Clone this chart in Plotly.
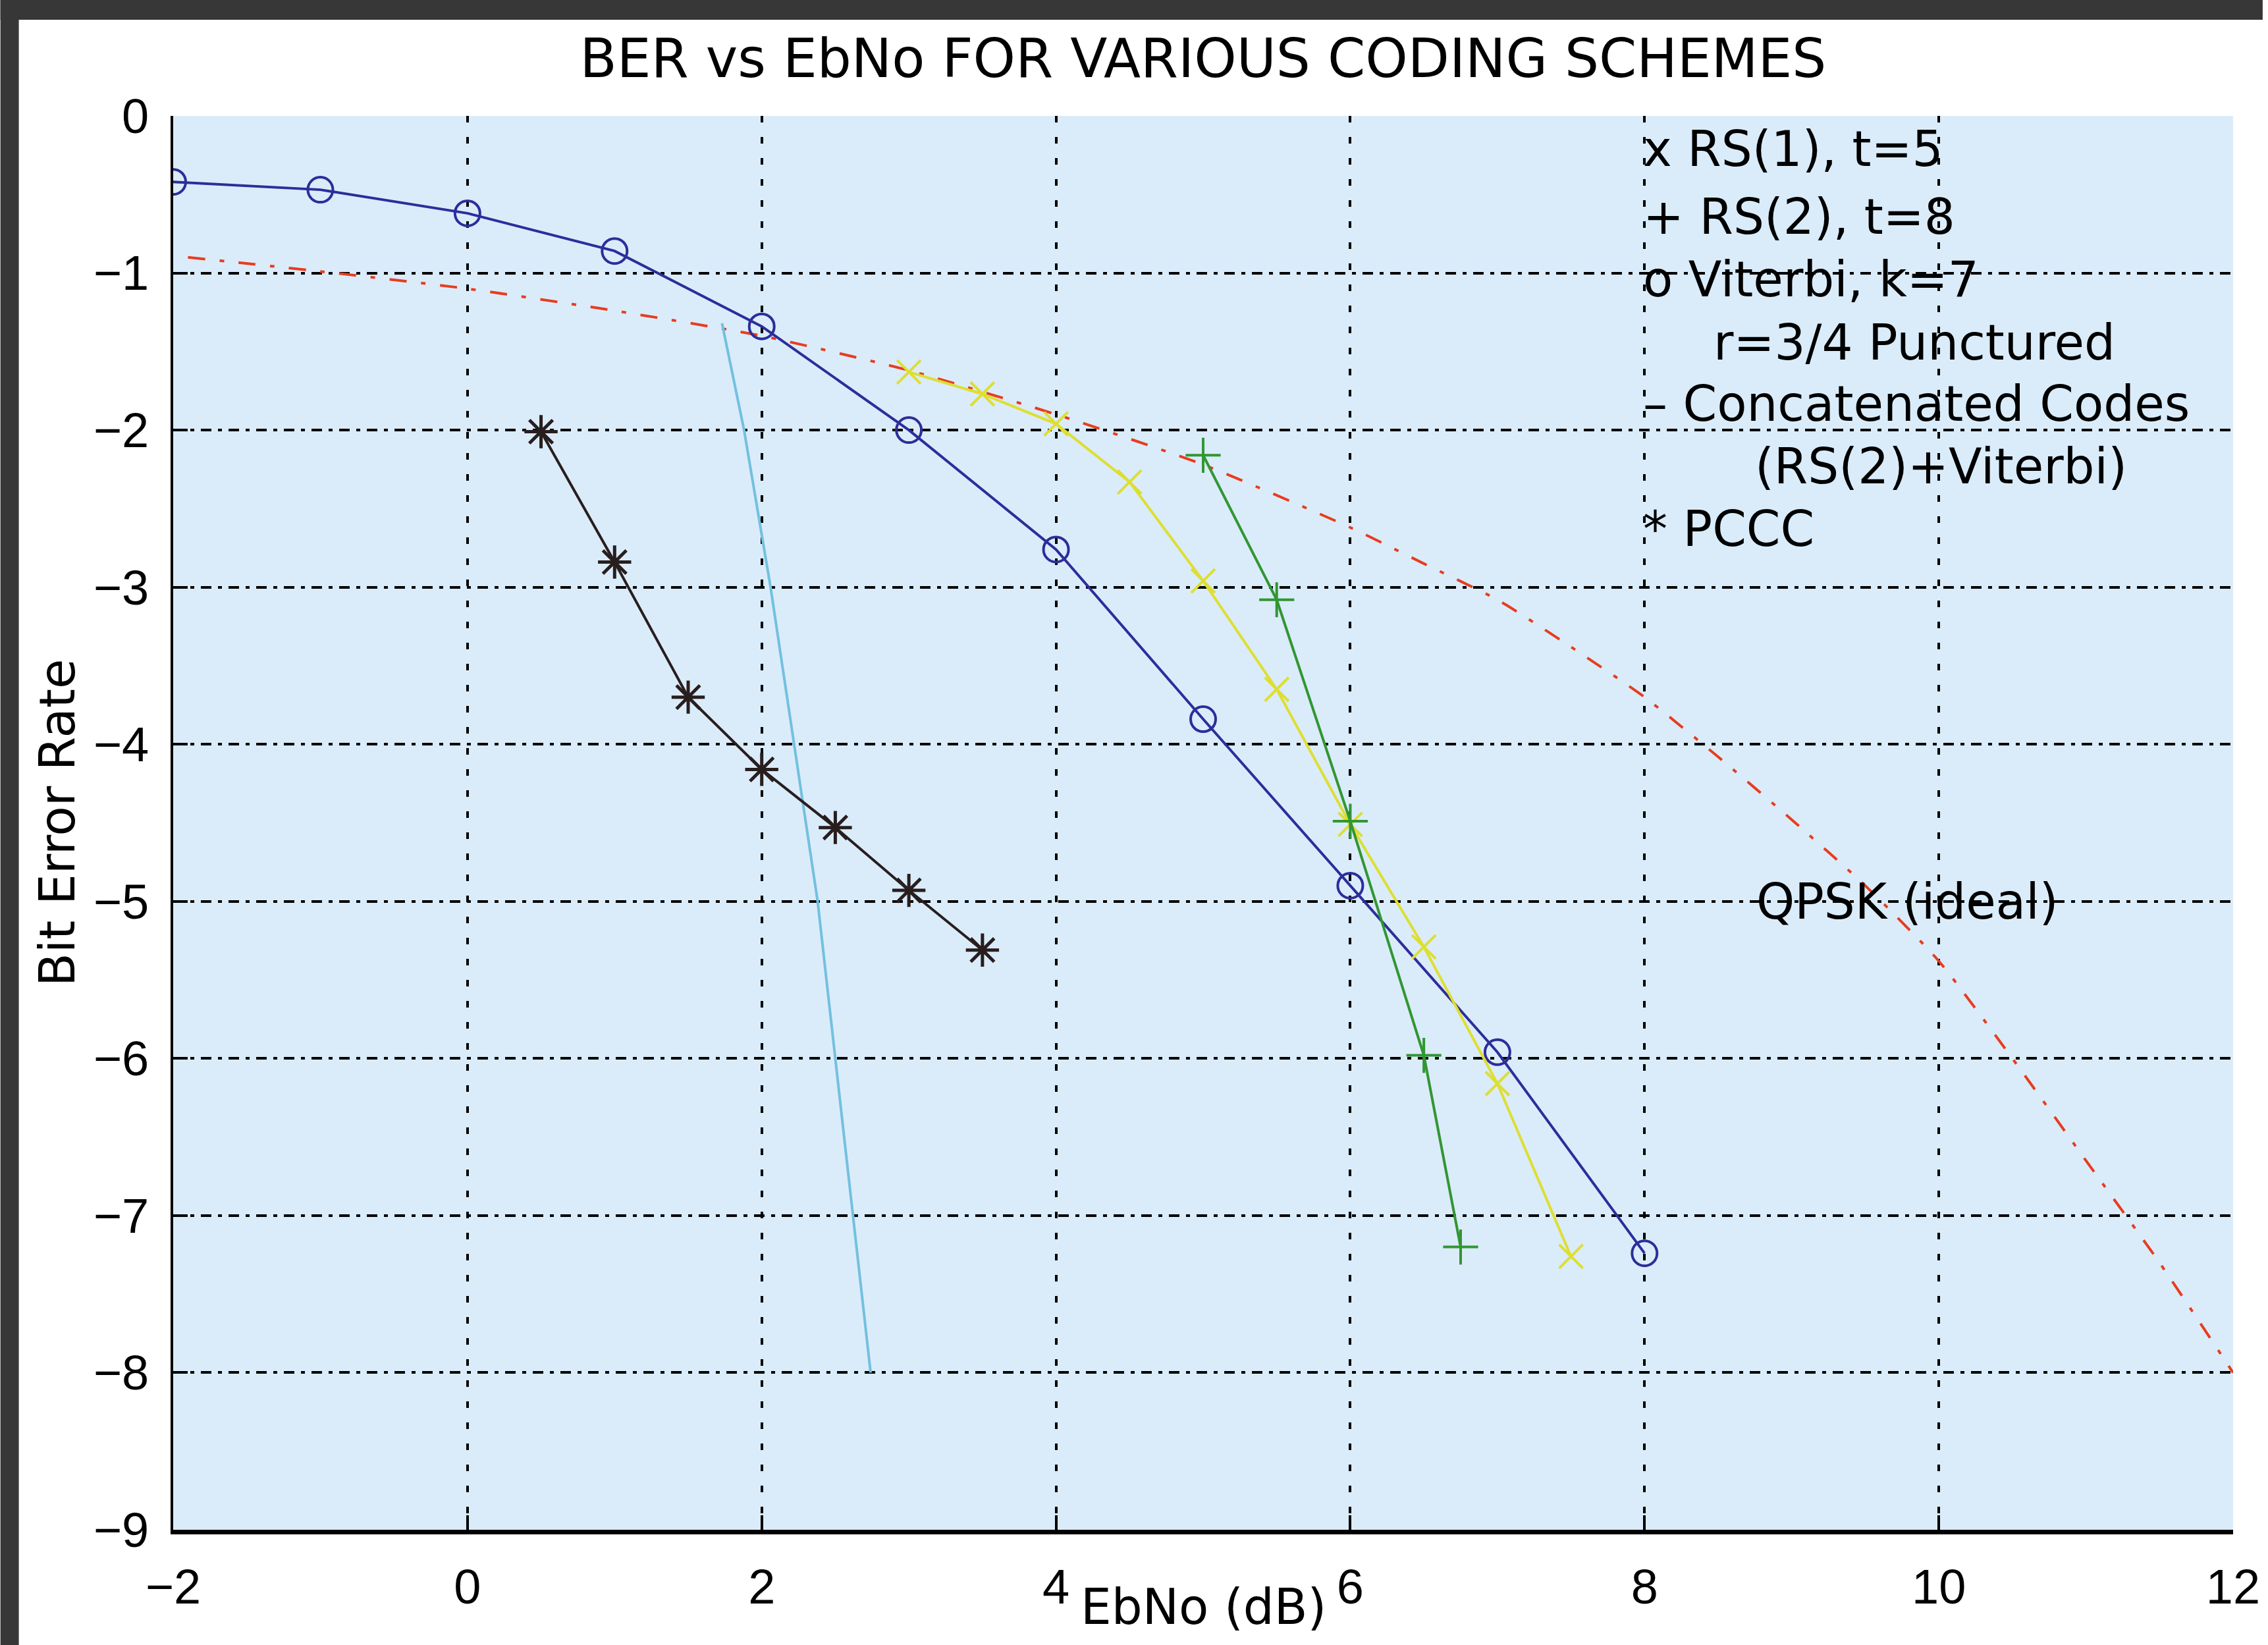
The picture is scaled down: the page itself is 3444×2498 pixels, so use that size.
import plotly.graph_objects as go

W, H = 3444, 2498
ML, MR, MT, MB = 263, 45, 176, 175
PW, PH = W - ML - MR, H - MT - MB

# ---- data (EbNo in dB, log10 BER) ----
ebno_viterbi = [-2, -1, 0, 1, 2, 3, 4, 5, 6, 7, 8]
ber_viterbi = [-0.42, -0.47, -0.62, -0.86, -1.34, -2.00, -2.76, -3.84, -4.90, -5.96, -7.24]

ebno_rs1 = [3, 3.5, 4, 4.5, 5, 5.5, 6, 6.5, 7, 7.5]
ber_rs1 = [-1.63, -1.77, -1.96, -2.33, -2.96, -3.65, -4.51, -5.29, -6.16, -7.26]

ebno_rs2 = [5, 5.5, 6, 6.5, 6.75]
ber_rs2 = [-2.16, -3.08, -4.49, -5.98, -7.20]

ebno_pccc = [0.5, 1, 1.5, 2, 2.5, 3, 3.5]
ber_pccc = [-2.01, -2.84, -3.70, -4.16, -4.53, -4.93, -5.31]

ebno_concat = [1.73, 1.88, 2.06, 2.22, 2.38, 2.50, 2.62, 2.74]
ber_concat = [-1.32, -2.0, -3.0, -4.0, -5.0, -6.0, -7.0, -8.0]

ebno_qpsk = [-1.9, -1, 0, 1, 2, 3, 4, 5, 6, 6.5, 7, 7.5, 8, 8.5, 9, 9.5, 10, 10.5, 11, 11.5, 12]
ber_qpsk = [-0.90, -0.99, -1.10, -1.24, -1.40, -1.62, -1.90, -2.22, -2.62, -2.85, -3.08, -3.38,
            -3.70, -4.08, -4.48, -4.90, -5.38, -6.00, -6.65, -7.30, -8.00]

x_ticks = [-2, 0, 2, 4, 6, 8, 10, 12]
y_ticks = [0, -1, -2, -3, -4, -5, -6, -7, -8, -9]

legend_lines = ["x RS(1), t=5", "+ RS(2), t=8", "o Viterbi, k=7", "r=3/4 Punctured",
                "\u2013 Concatenated Codes", "(RS(2)+Viterbi)", "* PCCC"]
legend_x = [7.98, 7.98, 7.98, 8.46, 7.98, 8.74, 7.98]
legend_y = [-0.21, -0.64, -1.04, -1.44, -1.83, -2.23, -2.63]

FONT = "DejaVu Sans"
TICKFONT = "Liberation Sans"
FS = 74


def fmt(v):
    return ("\u2212" + str(-v)) if v < 0 else str(v)


fig = go.Figure()

fig.add_trace(go.Scatter(x=ebno_qpsk, y=ber_qpsk, mode="lines",
                         line=dict(color="rgb(232,60,30)", width=4, dash="26px,22px,7px,22px",
                                   shape="spline", smoothing=0.6),
                         showlegend=False))
fig.add_trace(go.Scatter(x=ebno_concat, y=ber_concat, mode="lines",
                         line=dict(color="rgb(115,192,224)", width=4), showlegend=False))
fig.add_trace(go.Scatter(x=ebno_viterbi, y=ber_viterbi, mode="lines+markers",
                         line=dict(color="rgb(45,45,155)", width=4),
                         marker=dict(symbol="circle-open", size=38, color="rgb(45,45,155)",
                                     line=dict(width=4, color="rgb(45,45,155)")),
                         showlegend=False))
fig.add_trace(go.Scatter(x=ebno_rs1, y=ber_rs1, mode="lines+markers",
                         line=dict(color="rgb(222,222,50)", width=4),
                         marker=dict(symbol="x-thin", size=36,
                                     line=dict(width=4, color="rgb(222,222,50)")),
                         showlegend=False))
fig.add_trace(go.Scatter(x=ebno_rs2, y=ber_rs2, mode="lines+markers",
                         line=dict(color="rgb(50,150,50)", width=4),
                         marker=dict(symbol="cross-thin", size=38,
                                     line=dict(width=4, color="rgb(50,150,50)")),
                         showlegend=False))
fig.add_trace(go.Scatter(x=ebno_pccc, y=ber_pccc, mode="lines+markers",
                         line=dict(color="rgb(40,30,30)", width=4),
                         marker=dict(symbol="asterisk-open", size=42,
                                     line=dict(width=5, color="rgb(40,30,30)")),
                         showlegend=False))

annotations = []
for txt, lx, ly in zip(legend_lines, legend_x, legend_y):
    annotations.append(dict(x=lx, y=ly, xref="x", yref="y", text=txt, showarrow=False,
                            xanchor="left", yanchor="middle",
                            font=dict(family=FONT, size=FS, color="black")))
annotations.append(dict(x=8.75, y=-5.0, xref="x", yref="y", text="QPSK (ideal)",
                        showarrow=False, xanchor="left", yanchor="middle",
                        font=dict(family=FONT, size=FS, color="black")))
annotations.append(dict(x=0.5, y=-(2440 - (H - MB)) / PH, xref="paper", yref="paper",
                        text="EbNo (dB)", showarrow=False, xanchor="center", yanchor="middle",
                        font=dict(family=FONT, size=FS, color="black")))
annotations.append(dict(x=(86 - ML) / PW, y=0.5, xref="paper", yref="paper",
                        text="Bit Error Rate", showarrow=False, textangle=-90,
                        xanchor="center", yanchor="middle",
                        font=dict(family=FONT, size=FS, color="black")))

shapes = [
    # dark scanner border, top and left
    dict(type="rect", xref="paper", yref="paper", x0=-ML / PW, x1=1 + MR / PW,
         y0=1 + (MT - 30) / PH, y1=1 + MT / PH, fillcolor="rgb(55,55,55)", line=dict(width=0)),
    dict(type="rect", xref="paper", yref="paper", x0=-ML / PW, x1=-(ML - 28) / PW,
         y0=-MB / PH, y1=1 + MT / PH, fillcolor="rgb(55,55,55)", line=dict(width=0)),
]

fig.update_layout(
    width=W, height=H,
    margin=dict(l=ML, r=MR, t=MT, b=MB, pad=0),
    paper_bgcolor="white",
    plot_bgcolor="rgb(218,236,250)",
    title=dict(text="BER vs EbNo FOR VARIOUS CODING SCHEMES", x=0.5, xref="paper",
               xanchor="center", y=1 - 88 / H, yref="container", yanchor="middle",
               font=dict(family=FONT, size=82, color="black")),
    annotations=annotations,
    shapes=shapes,
    font=dict(family=FONT, size=FS, color="black"),
)

fig.update_xaxes(range=[-2, 12], tickvals=x_ticks, ticktext=[fmt(v) for v in x_ticks],
                 showgrid=True, gridcolor="black", gridwidth=4, griddash="10px,22px",
                 showline=True, linecolor="black", linewidth=7, mirror=False,
                 ticks="inside", ticklen=22, tickwidth=4, tickcolor="black",
                 ticklabelstandoff=16, ticklabeloverflow="allow", zeroline=False,
                 tickfont=dict(family=TICKFONT, size=FS, color="black"))
fig.update_yaxes(range=[-9, 0], tickvals=y_ticks, ticktext=[fmt(v) for v in y_ticks],
                 showgrid=True, gridcolor="black", gridwidth=4, griddash="16px,10px,6px,10px",
                 showline=True, linecolor="black", linewidth=4, mirror=False,
                 ticks="inside", ticklen=22, tickwidth=4, tickcolor="black",
                 ticklabelstandoff=18, ticklabeloverflow="allow", zeroline=False,
                 tickfont=dict(family=TICKFONT, size=FS, color="black"))

fig.write_html("out.html",
               config={"displayModeBar": False},
               post_script=("document.body.style.margin='0';"
                            "document.body.style.overflow='hidden';"
                            "document.documentElement.style.overflow='hidden';"
                            "document.body.style.background='white';"))
